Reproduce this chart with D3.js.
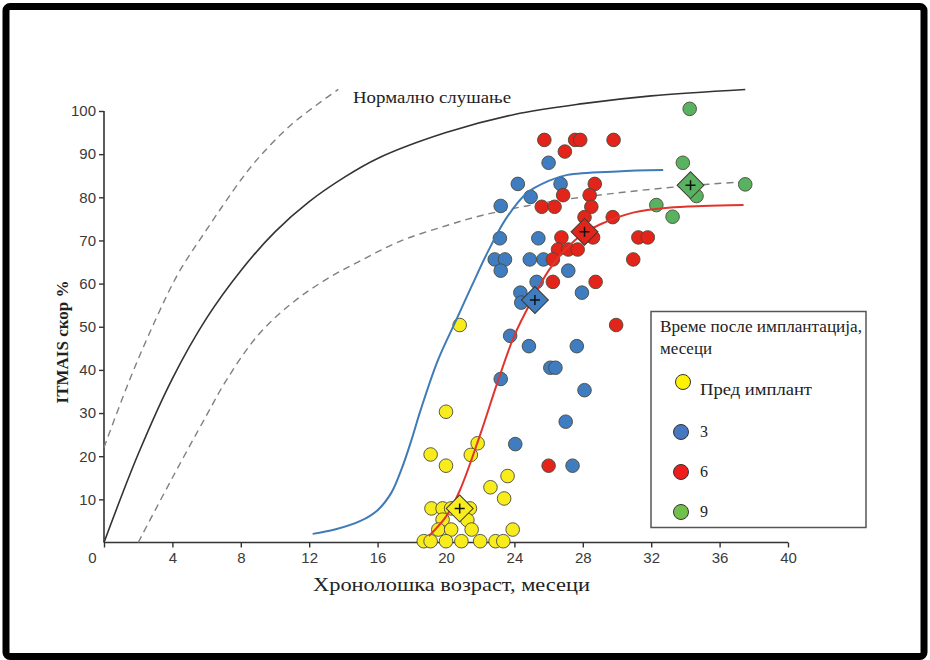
<!DOCTYPE html>
<html>
<head>
<meta charset="utf-8">
<script src="https://cdn.jsdelivr.net/npm/d3@7"></script>
<style>
  html, body { margin: 0; padding: 0; background: #fff; }
  svg { display: block; }
</style>
</head>
<body>
<svg id="chart" width="930" height="660"></svg>
<script>
// Ages in months (x) and ITMAIS score % (y) for each group
const preImplant = [
  [20.8, 50.4], [20.0, 30.3], [19.1, 20.4], [20.0, 17.8], [21.85, 23], [21.45, 20.3],
  [23.6, 15.4], [22.6, 12.8], [23.4, 10.2], [19.15, 7.9], [19.8, 7.9], [20.3, 7.9],
  [21.4, 7.9], [19.8, 5.3], [21.25, 5.2], [19.55, 3], [20.3, 3], [21.5, 3], [23.9, 3],
  [18.7, 0.3], [19.1, 0.3], [20.0, 0.3], [20.9, 0.3], [22.0, 0.3], [22.9, 0.3], [23.35, 0.3]
];
const months3 = [
  [26.0, 88], [24.2, 83.1], [26.7, 83.1], [24.95, 80.1], [23.2, 78], [23.15, 70.5],
  [25.4, 70.5], [22.85, 65.6], [23.45, 65.6], [24.9, 65.6], [25.7, 65.6], [23.2, 63],
  [27.15, 63], [25.3, 60.4], [24.35, 57.9], [27.95, 57.9], [24.4, 55.6], [23.75, 47.9],
  [24.85, 45.5], [27.65, 45.5], [26.1, 40.5], [26.4, 40.5], [28.1, 35.3], [23.2, 37.9],
  [27.0, 28], [24.05, 22.8], [27.4, 17.8]
];
const months6 = [
  [25.75, 93.3], [27.55, 93.3], [27.85, 93.3], [29.8, 93.3], [26.95, 90.6], [28.7, 83.1],
  [26.85, 80.5], [28.4, 80.5], [25.6, 77.8], [26.35, 77.8], [28.5, 77.8], [28.1, 75.4],
  [29.75, 75.4], [26.75, 70.7], [28.6, 70.7], [31.25, 70.7], [31.8, 70.7], [26.55, 67.9],
  [27.15, 67.9], [27.7, 67.9], [26.25, 65.6], [30.95, 65.6], [26.25, 60.4], [28.75, 60.4],
  [29.95, 50.4], [26.0, 17.8]
];
const months9 = [
  [34.25, 100.5], [33.85, 88], [34.65, 80.3], [37.5, 83], [32.3, 78.2], [33.25, 75.5]
];
// Group means (diamonds)
const groupMeans = [
  { group: "pre", x: 20.8, y: 7.9 },
  { group: "m3", x: 25.2, y: 56.2 },
  { group: "m6", x: 28.1, y: 72.0 },
  { group: "m9", x: 34.3, y: 82.8 }
];
// Normal-hearing reference curve and its bounds
const normalCurve = [
  [0, 0], [2, 20.5], [4, 38], [6, 52], [8, 63], [10, 72], [12, 79], [14, 84.5],
  [16, 89], [20, 95], [24, 99.2], [28, 101.7], [32, 103.5], [37.5, 105]
];
const normalUpper = [
  [0, 22], [1.5, 37.7], [3, 51.5], [4.35, 62.4], [6, 72.5], [8, 84], [9.1, 89.4],
  [11, 97], [13.7, 105]
];
const normalLower = [
  [2, 0], [4, 15], [6, 29.5], [7.17, 37.7], [9, 48], [11, 55.5], [13, 61],
  [15, 65.3], [17.3, 69.8], [20, 73.4], [22.2, 75.9], [26, 78.9], [30, 81], [34, 82.6], [37.4, 83.6]
];
// Fitted growth curves for the 3- and 6-month groups
const curve3 = [
  [12.2, 2], [13.5, 3], [15, 5], [16, 7.5], [16.8, 11.5], [17.4, 17], [18, 24],
  [18.5, 30.5], [19.5, 42], [20.6, 51.6], [21.5, 59.4], [22.4, 67], [23.5, 75],
  [24.7, 80.9], [26, 83.8], [27.1, 85.2], [30, 86], [32.7, 86.3]
];
const curve6 = [
  [19, 1.5], [20, 6], [20.8, 12], [22, 25], [23, 37], [24, 48], [25, 56], [26, 63],
  [27, 68], [28, 71.5], [29, 73.7], [31, 76.5], [33, 77.6], [35, 78], [37.4, 78.2]
];
const xTicks = [0, 4, 8, 12, 16, 20, 24, 28, 32, 36, 40];
const yTicks = [10, 20, 30, 40, 50, 60, 70, 80, 90, 100];
const legendTitle = ["Време после имплантација,", "месеци"];
const legendItems = [
  { key: "pre", label: "Пред имплант" },
  { key: "m3", label: "3" },
  { key: "m6", label: "6" },
  { key: "m9", label: "9" }
];

const colors = { pre: "#f8ec1c", m3: "#3f7cc0", m6: "#e3241b", m9: "#58b25f" };
const legendColors = { pre: "#fff200", m3: "#4677bf", m6: "#ee1c1c", m9: "#72c04c" };

const svg = d3.select("#chart");
const x = d3.scaleLinear().domain([0, 40]).range([104, 788]);
const y = d3.scaleLinear().domain([0, 100]).range([542.5, 111]);

// outer frame
svg.append("rect")
  .attr("x", 6).attr("y", 6.5).attr("width", 918).attr("height", 650)
  .attr("rx", 4)
  .attr("fill", "none").attr("stroke", "#000").attr("stroke-width", 7);

// axes
const tickFont = "'Liberation Sans Narrow', 'Arial Narrow', 'Liberation Sans', sans-serif";
const xAxis = svg.append("g")
  .attr("transform", `translate(0,${y(0)})`)
  .call(d3.axisBottom(x).tickValues(xTicks).tickSize(5).tickPadding(5).tickFormat(d3.format("d")));
const yAxis = svg.append("g")
  .attr("transform", `translate(${x(0)},0)`)
  .call(d3.axisLeft(y).tickValues(yTicks).tickSize(5).tickPadding(3).tickFormat(d3.format("d")));
[xAxis, yAxis].forEach(g => {
  g.select(".domain").attr("stroke", "#333").attr("stroke-width", 1.6);
  g.selectAll(".tick line").attr("stroke", "#333").attr("stroke-width", 1.4);
  g.selectAll(".tick text").attr("fill", "#3a3a3a")
    .style("font-family", tickFont).style("font-size", "15px");
});
xAxis.select(".domain").attr("d", `M${x(0)},0H${x(40)}`);
yAxis.select(".domain").attr("d", `M0,${y(0)}V${y(100)}`);
xAxis.selectAll(".tick").filter(d => d === 0).select("text").attr("dx", -12);

// reference curves
const line = d3.line().x(d => x(d[0])).y(d => y(d[1])).curve(d3.curveCatmullRom.alpha(0.5));
svg.append("path").attr("d", line(normalUpper))
  .attr("fill", "none").attr("stroke", "#808080").attr("stroke-width", 1.4).attr("stroke-dasharray", "7,5");
svg.append("path").attr("d", line(normalLower))
  .attr("fill", "none").attr("stroke", "#808080").attr("stroke-width", 1.4).attr("stroke-dasharray", "7,5");

// group points
const groups = [
  { key: "pre", data: preImplant },
  { key: "m3", data: months3 },
  { key: "m6", data: months6 },
  { key: "m9", data: months9 }
];
groups.forEach(gr => {
  svg.append("g").selectAll("circle").data(gr.data).join("circle")
    .attr("cx", d => x(d[0])).attr("cy", d => y(d[1])).attr("r", 6.8)
    .attr("fill", colors[gr.key]).attr("stroke", "#4a4a3a").attr("stroke-width", 0.9);
});

// growth curves
svg.append("path").attr("d", line(curve3))
  .attr("fill", "none").attr("stroke", "#3f7bb8").attr("stroke-width", 2);
svg.append("path").attr("d", line(curve6))
  .attr("fill", "none").attr("stroke", "#e0342c").attr("stroke-width", 2);
svg.append("path").attr("d", line(normalCurve))
  .attr("fill", "none").attr("stroke", "#333").attr("stroke-width", 1.6);

// group means
const diamond = svg.append("g").selectAll("g").data(groupMeans).join("g")
  .attr("transform", d => `translate(${x(d.x)},${y(d.y)})`);
diamond.append("rect")
  .attr("x", -9.5).attr("y", -9.5).attr("width", 19).attr("height", 19)
  .attr("transform", "rotate(45)")
  .attr("fill", d => colors[d.group]).attr("stroke", "#3a3a30").attr("stroke-width", 1);
diamond.append("path").attr("d", "M-5,0H5M0,-5V5")
  .attr("stroke", "#111").attr("stroke-width", 1.5);

// labels
const serif = "'Liberation Serif', 'DejaVu Serif', serif";
svg.append("text").attr("x", 353).attr("y", 103)
  .attr("textLength", 158).attr("lengthAdjust", "spacingAndGlyphs")
  .style("font-family", serif).style("font-size", "16.5px").attr("fill", "#222")
  .text("Нормално слушање");
svg.append("text").attr("x", 313).attr("y", 591)
  .attr("textLength", 277).attr("lengthAdjust", "spacingAndGlyphs")
  .style("font-family", serif).style("font-size", "18px").attr("fill", "#222")
  .text("Хронолошка возраст, месеци");
svg.append("text").attr("transform", "translate(68,342) rotate(-90)").attr("text-anchor", "middle")
  .style("font-family", serif).style("font-size", "17px").style("font-weight", "bold").attr("fill", "#222")
  .text("ITMAIS скор %");

// legend
const lg = svg.append("g");
lg.append("rect").attr("x", 651).attr("y", 311.5).attr("width", 215).attr("height", 216)
  .attr("fill", "#fff").attr("stroke", "#555").attr("stroke-width", 1.5);
const titleWidths = [202, 52];
lg.selectAll("text.title").data(legendTitle).join("text").attr("class", "title")
  .attr("x", 660).attr("y", (d, i) => 332 + i * 22)
  .attr("textLength", (d, i) => titleWidths[i]).attr("lengthAdjust", "spacingAndGlyphs")
  .style("font-family", serif).style("font-size", "16px").attr("fill", "#222")
  .text(d => d);
const itemY = [382, 432, 472, 512];
const items = lg.selectAll("g.item").data(legendItems).join("g").attr("class", "item")
  .attr("transform", (d, i) => `translate(0,${itemY[i]})`);
items.append("circle").attr("cx", (d, i) => i === 0 ? 683 : 681).attr("cy", 0).attr("r", 7.5)
  .attr("fill", d => legendColors[d.key]).attr("stroke", "#333").attr("stroke-width", 1);
items.append("text").attr("x", 700).attr("y", (d, i) => i === 0 ? 13 : 5)
  .style("font-family", serif).style("font-size", "16px").attr("fill", "#222")
  .each(function (d, i) { if (i === 0) d3.select(this).attr("textLength", 112).attr("lengthAdjust", "spacingAndGlyphs"); })
  .text(d => d.label);
</script>
</body>
</html>
